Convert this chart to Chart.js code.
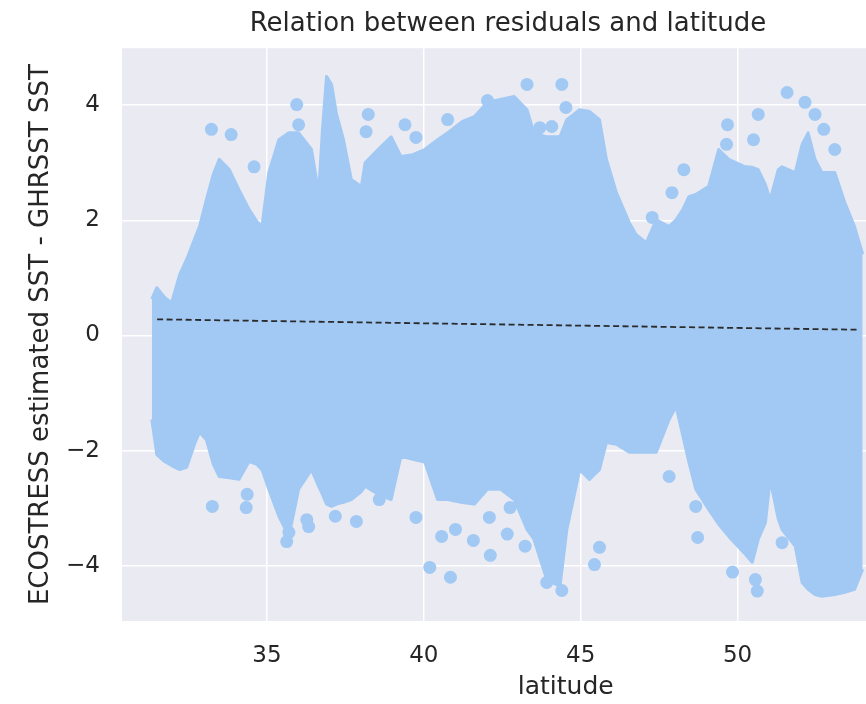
<!DOCTYPE html>
<html>
<head>
<meta charset="utf-8">
<title>Relation between residuals and latitude</title>
<script src="https://cdn.jsdelivr.net/npm/chart.js@4.4.1/dist/chart.umd.min.js"></script>
<style>
  html, body { margin: 0; padding: 0; background: #fff; overflow: hidden; }
  /* the original figure is wider than the window: its right part is cut off */
  #residualChart { display: block; }
</style>
</head>
<body>
<canvas id="residualChart" width="1016" height="704"></canvas>
<script>
// Dense cloud of residuals: upper / lower edge of the cloud per latitude
const envLat = [31.33, 31.49, 31.74, 31.96, 32.22, 32.44, 32.69, 32.85, 33.07, 33.29,
  33.48, 33.80, 34.11, 34.43, 34.68, 34.84, 35.06, 35.38, 35.70, 36.01,
  36.42, 36.65, 36.77, 36.90, 37.06, 37.22, 37.44, 37.69, 38.01, 38.13,
  38.54, 38.96, 39.27, 39.65, 40.03, 40.44, 40.76, 41.23, 41.61, 42.03,
  42.44, 42.88, 43.29, 43.51, 43.92, 44.34, 44.56, 44.97, 45.28, 45.60,
  45.82, 46.14, 46.55, 46.77, 47.09, 47.41, 47.82, 48.04, 48.26, 48.45,
  48.67, 49.08, 49.40, 49.72, 50.25, 50.47, 50.66, 50.89, 51.04, 51.30,
  51.42, 51.84, 52.06, 52.25, 52.47, 52.69, 53.10, 53.42, 53.73, 53.99];
const envUpper = [0.63, 0.83, 0.66, 0.57, 1.06, 1.32, 1.67, 1.89, 2.36, 2.80,
  3.06, 2.88, 2.53, 2.19, 1.98, 1.89, 2.83, 3.40, 3.52, 3.52,
  3.23, 2.48, 3.58, 4.50, 4.36, 3.84, 3.40, 2.71, 2.59, 3.00,
  3.23, 3.45, 3.11, 3.14, 3.23, 3.40, 3.52, 3.72, 3.80, 4.05,
  4.10, 4.15, 3.92, 3.52, 3.45, 3.45, 3.75, 3.92, 3.89, 3.75,
  3.06, 2.48, 1.96, 1.75, 1.61, 2.01, 1.89, 2.01, 2.19, 2.41,
  2.45, 2.59, 3.23, 3.06, 2.93, 2.92, 2.88, 2.62, 2.36, 2.88,
  2.93, 2.83, 3.32, 3.52, 3.06, 2.83, 2.83, 2.31, 1.89, 1.41];
const envLower = [-1.46, -2.07, -2.19, -2.26, -2.33, -2.29, -1.89, -1.68, -1.81, -2.24,
  -2.45, -2.47, -2.50, -2.19, -2.24, -2.33, -2.67, -3.14, -3.49, -2.67,
  -2.33, -2.62, -2.76, -2.93, -2.97, -2.93, -2.90, -2.85, -2.71, -2.62,
  -2.76, -2.85, -2.10, -2.15, -2.20, -2.85, -2.85, -2.90, -2.93, -2.67,
  -2.67, -2.85, -3.37, -3.54, -4.24, -4.36, -3.37, -2.33, -2.50, -2.33,
  -1.86, -1.89, -2.03, -2.03, -2.03, -2.03, -1.46, -1.23, -1.75, -2.20,
  -2.67, -3.02, -3.28, -3.49, -3.80, -3.94, -3.54, -3.25, -2.50, -3.19,
  -3.37, -3.66, -4.29, -4.41, -4.50, -4.53, -4.50, -4.46, -4.41, -4.06];

// Single scattered points outside the dense cloud
const outLat = [33.23, 33.86, 35.95, 36.01, 34.59, 38.23, 38.16, 39.40, 39.75, 40.76,
  42.03, 43.29, 44.40, 44.53, 43.70, 44.08, 49.68, 50.66, 51.58, 52.15,
  52.47, 52.75, 47.28, 47.91, 48.29, 49.65, 50.51, 53.10,
  33.26, 34.34, 34.37, 35.63, 35.70, 36.33, 36.27, 37.85, 37.18, 38.58,
  39.75, 40.19, 40.85, 40.57, 41.01, 41.58, 42.12, 42.66, 42.75, 42.09,
  43.23, 43.92, 44.40, 45.44, 45.60, 48.73, 49.84, 50.63, 50.57, 48.67,
  47.82, 51.42];
const outVal = [3.58, 3.49, 4.01, 3.66, 2.93, 3.84, 3.54, 3.66, 3.44, 3.75,
  4.08, 4.36, 4.36, 3.96, 3.61, 3.63, 3.66, 3.84, 4.22, 4.05,
  3.84, 3.58, 2.05, 2.48, 2.88, 3.32, 3.40, 3.23,
  -2.97, -2.99, -2.76, -3.58, -3.42, -3.32, -3.20, -3.23, -3.14, -2.85,
  -3.16, -4.03, -4.20, -3.49, -3.37, -3.56, -3.82, -3.45, -2.99, -3.16,
  -3.66, -4.29, -4.43, -3.98, -3.68, -3.51, -4.11, -4.44, -4.24, -2.97,
  -2.45, -3.60];

// Linear fit (dashed)
const trendLat = [31.5, 53.8];
const trendVal = [0.28, 0.10];

const xTicks = [35, 40, 45, 50];
const yTicks = [-4, -2, 0, 2, 4];

const POINT_BLUE = '#A1C9F4';
const TEXT = '#262626';
const FONT = "'DejaVu Sans', sans-serif";

const toXY = (xs, ys) => xs.map((x, i) => ({ x: x, y: ys[i] }));

// Seaborn-like grey plot background
const plotBackground = {
  id: 'plotBackground',
  beforeDraw(chart) {
    const { ctx, chartArea } = chart;
    ctx.save();
    ctx.fillStyle = '#EAEAF2';
    ctx.fillRect(chartArea.left, chartArea.top, chartArea.right - chartArea.left, chartArea.bottom - chartArea.top);
    ctx.restore();
  },
};

new Chart(document.getElementById('residualChart'), {
  type: 'scatter',
  data: {
    datasets: [
      {
        type: 'line',
        data: toXY(trendLat, trendVal),
        borderColor: '#2b2b2b',
        borderWidth: 1.8,
        borderDash: [6, 3.5],
        pointRadius: 0,
        fill: false,
      },
      {
        type: 'scatter',
        data: toXY(outLat, outVal),
        backgroundColor: POINT_BLUE,
        borderWidth: 0,
        pointRadius: 6.5,
      },
      {
        type: 'line',
        data: toXY(envLat, envUpper),
        borderColor: POINT_BLUE,
        backgroundColor: POINT_BLUE,
        borderWidth: 3,
        borderJoinStyle: 'round',
        pointRadius: 0,
        fill: '+1',
      },
      {
        type: 'line',
        data: toXY(envLat, envLower),
        borderColor: POINT_BLUE,
        backgroundColor: POINT_BLUE,
        borderWidth: 3,
        borderJoinStyle: 'round',
        pointRadius: 0,
        fill: false,
      },
    ],
  },
  options: {
    responsive: false,
    animation: false,
    layout: { padding: 0 },
    plugins: {
      legend: { display: false },
      tooltip: { enabled: false },
      title: {
        display: true,
        text: 'Relation between residuals and latitude',
        color: TEXT,
        font: { family: FONT, size: 26, weight: 'normal' },
        padding: { top: 9, bottom: 8 },
      },
    },
    scales: {
      x: {
        type: 'linear',
        min: 30.38,
        max: 58.67,
        afterBuildTicks: (scale) => {
          scale.ticks = xTicks.map((v) => ({ value: v }));
        },
        afterFit: (scale) => {
          scale.height = 83;
        },
        border: { display: false },
        grid: { color: '#FFFFFF', lineWidth: 1.5, drawTicks: false },
        ticks: {
          color: TEXT,
          font: { family: FONT, size: 23 },
          padding: 21,
          maxRotation: 0,
        },
        title: {
          display: true,
          text: 'latitude',
          color: TEXT,
          font: { family: FONT, size: 25 },
          padding: { top: 0, bottom: 2 },
        },
      },
      y: {
        type: 'linear',
        min: -4.96,
        max: 4.99,
        afterBuildTicks: (scale) => {
          scale.ticks = yTicks.map((v) => ({ value: v }));
        },
        afterFit: (scale) => {
          scale.width = 122;
        },
        border: { display: false },
        grid: { color: '#FFFFFF', lineWidth: 1.5, drawTicks: false },
        ticks: {
          color: TEXT,
          font: { family: FONT, size: 23 },
          padding: 22,
          callback: (v) => String(v).replace('-', '\u2212'),
        },
        title: {
          display: true,
          text: 'ECOSTRESS estimated SST - GHRSST SST',
          color: TEXT,
          font: { family: FONT, size: 26 },
          padding: { top: 26, bottom: 0 },
        },
      },
    },
  },
  plugins: [plotBackground],
});
</script>
</body>
</html>
